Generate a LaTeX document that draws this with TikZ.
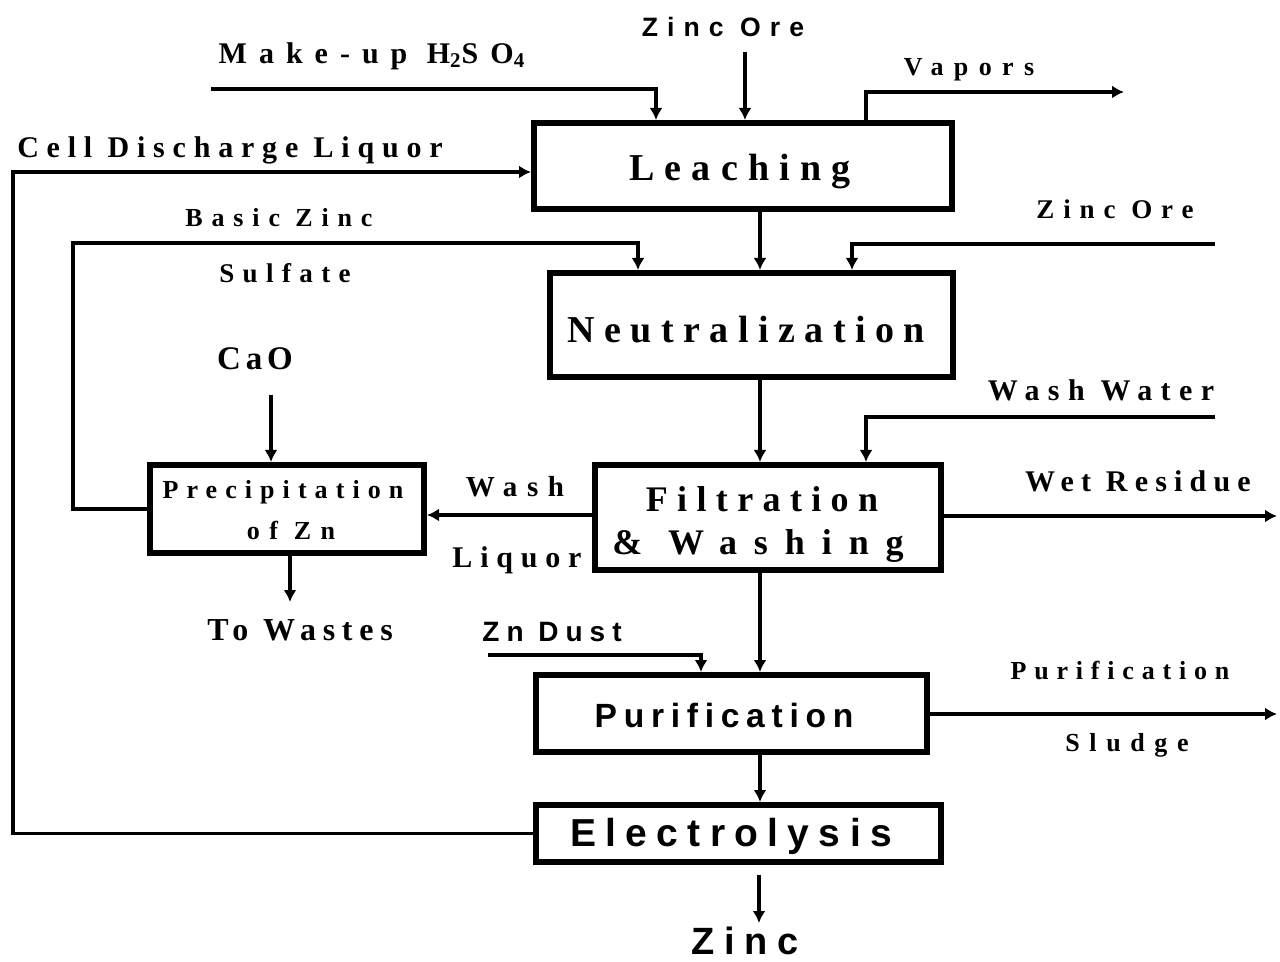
\documentclass[tikz,border=0pt]{standalone}
\usepackage{fontspec}
\setmainfont{Liberation Serif}
\newfontfamily\lsansfam{Liberation Sans}
\usetikzlibrary{arrows.meta}
\newcommand\sertxt[3]{{\fontsize{#1}{#1}\selectfont\bfseries\addfontfeatures{LetterSpace=#2}#3}}
\newcommand\santxt[3]{{\lsansfam\fontsize{#1}{#1}\selectfont\bfseries\addfontfeatures{LetterSpace=#2}#3}}
\tikzset{
  procbox/.style={draw, line width=3pt, rectangle, inner sep=0pt, align=center},
  conn/.style={line width=1.8pt},
  arr/.style={conn, -{Latex[length=6pt,width=6.5pt]}},
  lbl/.style={inner sep=0pt, align=center},
}
\begin{document}
\begin{tikzpicture}[x=0.5pt,y=-0.5pt]
\useasboundingbox (0,0) rectangle (1280,962);
% boxes
\node[procbox, minimum width=209pt, minimum height=43pt] (leach) at (743,166) {};
\node[procbox, minimum width=201.5pt, minimum height=52pt] (neut) at (751.5,325) {};
\node[procbox, minimum width=173pt, minimum height=52.5pt] (filt) at (768,517.5) {};
\node[procbox, minimum width=137pt, minimum height=44pt] (prec) at (287,509) {};
\node[procbox, minimum width=195.5pt, minimum height=38.5pt] (puri) at (731.5,713.5) {};
\node[procbox, minimum width=202.5pt, minimum height=28.5pt] (elec) at (738.5,833.5) {};
% box texts
\node[lbl] (tleach) at (740,172) {\sertxt{19}{27}{Leaching}};
\node[lbl] (tneut) at (746,330) {\sertxt{19}{25}{Neutralization}};
\node[lbl] (tfilt1) at (762,499) {\sertxt{18}{26}{Filtration}};
\node[lbl] (tfilt2) at (758,546) {\sertxt{18}{47}{\& Washing}};
\node[lbl] (tprec1) at (283,492) {\sertxt{13}{31}{Precipitation}};
\node[lbl] (tprec2) at (291,530) {\sertxt{13}{36}{of Zn}};
\node[lbl] (tpuri) at (724,715) {\santxt{16.8}{20}{Purification}};
\node[lbl] (telec) at (731,836) {\santxt{19.5}{24}{Electrolysis}};
% labels
\node[lbl] (lzot) at (723,27) {\santxt{13.3}{34}{Zinc Ore}};
\node[lbl] (lmu) at (372,56) {\sertxt{15}{40}{Make-up H\textsubscript{2}SO\textsubscript{4}}};
\node[lbl] (lvap) at (969,70) {\sertxt{13}{40}{Vapors}};
\node[lbl] (lcdl) at (230,150) {\sertxt{15}{26}{Cell Discharge Liquor}};
\node[lbl] (lbz) at (279,218) {\sertxt{13}{34}{Basic Zinc}};
\node[lbl] (lsul) at (285,273) {\sertxt{13.5}{31}{Sulfate}};
\node[lbl] (lzor) at (1115,209) {\sertxt{13.5}{33}{Zinc Ore}};
\node[lbl] (lcao) at (255,359) {\sertxt{16.5}{15}{CaO}};
\node[lbl] (lww) at (1101,390) {\sertxt{15}{28}{Wash Water}};
\node[lbl] (lwr) at (1138,481) {\sertxt{15}{24}{Wet Residue}};
\node[lbl] (lwash) at (515,487) {\sertxt{14.5}{33}{Wash}};
\node[lbl] (lliq) at (517,560) {\sertxt{15}{26}{Liquor}};
\node[lbl] (ltw) at (300,630) {\sertxt{16}{21}{To Wastes}};
\node[lbl] (lzd) at (552,632) {\santxt{14}{25}{Zn Dust}};
\node[lbl] (lpu) at (1120,671) {\sertxt{13}{30}{Purification}};
\node[lbl] (lsl) at (1127,745) {\sertxt{13}{37}{Sludge}};
\node[lbl] (lzinc) at (745,941) {\santxt{19}{26}{Zinc}};
% coordinates
\coordinate (m) at (760,0);
\coordinate (zo1) at (745,52);
\coordinate (mu0) at (211,89);
\coordinate (mu1) at (656,89);
\coordinate (va0) at (866,92);
\coordinate (va1) at (1124,92);
\coordinate (cd0) at (13,833.5);
\coordinate (cd1) at (13,172);
\coordinate (bz1) at (73,509);
\coordinate (bz2) at (73,243);
\coordinate (bz3) at (638,243);
\coordinate (zr1) at (1215,244);
\coordinate (zr2) at (852,244);
\coordinate (ww1) at (1215,417);
\coordinate (ww2) at (866,417);
\coordinate (wr) at (1277,516);
\coordinate (wl) at (0,515);
\coordinate (cao) at (271,395);
\coordinate (tw) at (290,602);
\coordinate (zd1) at (488,655);
\coordinate (zd2) at (701,655);
\coordinate (ps) at (1277,714);
\coordinate (z1) at (759,875);
\coordinate (z2) at (759,923);
% connectors
\draw[arr] (zo1) -- (zo1 |- leach.north);
\draw[arr] (mu0) -- (mu1) -- (mu1 |- leach.north);
\draw[arr] (va0 |- leach.north) -- (va0) -- (va1);
\draw[arr] (elec.west) -- (cd0) -- (cd1) -- (cd1 -| leach.west);
\draw[arr] (m |- leach.south) -- (m |- neut.north);
\draw[arr] (prec.west) -- (bz1) -- (bz2) -- (bz3) -- (bz3 |- neut.north);
\draw[arr] (zr1) -- (zr2) -- (zr2 |- neut.north);
\draw[arr] (m |- neut.south) -- (m |- filt.north);
\draw[arr] (ww1) -- (ww2) -- (ww2 |- filt.north);
\draw[arr] (wr -| filt.east) -- (wr);
\draw[arr] (wl -| filt.west) -- (wl -| prec.east);
\draw[arr] (cao) -- (cao |- prec.north);
\draw[arr] (tw |- prec.south) -- (tw);
\draw[arr] (m |- filt.south) -- (m |- puri.north);
\draw[arr] (zd1) -- (zd2) -- (zd2 |- puri.north);
\draw[arr] (ps -| puri.east) -- (ps);
\draw[arr] (m |- puri.south) -- (m |- elec.north);
\draw[arr] (z1) -- (z2);
\end{tikzpicture}
\end{document}
